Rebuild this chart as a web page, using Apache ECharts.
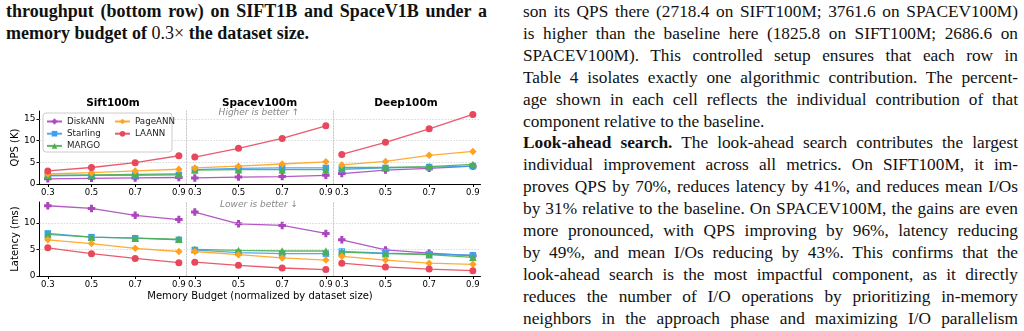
<!DOCTYPE html>
<html>
<head>
<meta charset="utf-8">
<script src="https://cdn.jsdelivr.net/npm/echarts@6/dist/echarts.min.js"></script>
<style>
body{margin:0;width:1024px;height:331px;overflow:hidden;background:#fff;position:relative;color:#111}
#chart{position:absolute;left:0;top:0;width:500px;height:331px}
.cap{position:absolute;left:6px;top:1px;width:481px;font:bold 18px/21.5px "Liberation Serif",serif}
.cap .m{font-weight:normal}
.col{position:absolute;left:523px;top:1px;width:495px;font:17.3px/21.9px "Liberation Serif",serif}
.j{text-align:justify;text-align-last:justify}
.l{text-align:left}
</style>
</head>
<body>
<div class="cap">
<div class="j">throughput (bottom row) on SIFT1B and SpaceV1B under a</div>
<div class="l">memory budget of <span class="m">0.3×</span> the dataset size.</div>
</div>
<div class="col">
<div class="j">son its QPS there (2718.4 on SIFT100M; 3761.6 on SPACEV100M)</div>
<div class="j">is higher than the baseline here (1825.8 on SIFT100M; 2686.6 on</div>
<div class="j">SPACEV100M). This controlled setup ensures that each row in</div>
<div class="j">Table 4 isolates exactly one algorithmic contribution. The percent-</div>
<div class="j">age shown in each cell reflects the individual contribution of that</div>
<div class="l">component relative to the baseline.</div>
<div class="j"><b>Look-ahead search.</b> The look-ahead search contributes the largest</div>
<div class="j">individual improvement across all metrics. On SIFT100M, it im-</div>
<div class="j">proves QPS by 70%, reduces latency by 41%, and reduces mean I/Os</div>
<div class="j">by 31% relative to the baseline. On SPACEV100M, the gains are even</div>
<div class="j">more pronounced, with QPS improving by 96%, latency reducing</div>
<div class="j">by 49%, and mean I/Os reducing by 43%. This confirms that the</div>
<div class="j">look-ahead search is the most impactful component, as it directly</div>
<div class="j">reduces the number of I/O operations by prioritizing in-memory</div>
<div class="j">neighbors in the approach phase and maximizing I/O parallelism</div>
</div>
<div id="chart"></div>
<script>
// memory budget (x) and panels
var budgets = [0.3, 0.5, 0.7, 0.9];
var datasets = ['Sift100m', 'Spacev100m', 'Deep100m'];
var methods = ['DiskANN', 'Starling', 'MARGO', 'PageANN', 'LAANN'];
var qpsTicks = [0, 5, 10, 15];
var latTicks = [0, 5, 10];

// QPS (K), one row per dataset: sift, spacev, deep
var qpsDiskANN  = [[1.2, 1.3, 1.4, 1.5], [1.4, 1.6, 1.7, 2.0], [2.4, 3.2, 3.6, 4.1]];
var qpsStarling = [[1.9, 2.0, 2.0, 2.1], [3.3, 3.6, 3.7, 3.7], [3.4, 3.7, 3.9, 4.1]];
var qpsMARGO    = [[2.0, 2.1, 2.2, 2.3], [3.2, 3.3, 3.3, 3.3], [3.8, 3.8, 4.0, 4.5]];
var qpsPageANN  = [[2.3, 2.6, 3.0, 3.4], [3.7, 4.1, 4.6, 5.1], [4.4, 5.2, 6.6, 7.5]];
var qpsLAANN    = [[3.0, 3.8, 4.9, 6.5], [6.2, 8.2, 10.5, 13.4], [6.8, 9.6, 12.7, 16.0]];

// latency (ms)
var latDiskANN  = [[13.2, 12.7, 11.4, 10.6], [12.0, 9.8, 9.5, 8.0], [6.8, 4.9, 4.3, 3.8]];
var latStarling = [[8.0, 7.3, 7.1, 6.8], [4.9, 4.4, 4.2, 4.2], [4.6, 4.3, 4.1, 3.9]];
var latMARGO    = [[7.8, 7.3, 7.1, 6.9], [5.0, 4.8, 4.7, 4.7], [4.5, 4.2, 4.0, 3.5]];
var latPageANN  = [[6.8, 6.1, 5.2, 4.6], [4.6, 4.0, 3.4, 3.0], [3.7, 3.0, 2.4, 2.2]];
var latLAANN    = [[5.3, 4.2, 3.3, 2.5], [2.6, 2.0, 1.5, 1.2], [2.4, 1.7, 1.3, 1.0]];

var qpsData = [qpsDiskANN, qpsStarling, qpsMARGO, qpsPageANN, qpsLAANN];
var latData = [latDiskANN, latStarling, latMARGO, latPageANN, latLAANN];

var colors = ['#AB47BC', '#3DA0F0', '#4CAF50', '#FFA21F', '#E8475C'];
var symbols = ['path://M3,0H7V3H10V7H7V10H3V7H0V3H3Z', 'rect', 'triangle', 'diamond', 'circle'];
var symSizes = [7.5, 6.5, 7.5, 7.5, 7];
var FONT = 'DejaVu Sans';

var colLeft = [39.5, 186.5, 333.5], colW = 147;
var rowTop = [111, 202], rowH = [73, 74], rowMax = [16.8, 13.9];
var rowTicks = [qpsTicks, latTicks];
var rowData = [qpsData, latData];

var grids = [], xAxes = [], yAxes = [], series = [];
for (var r = 0; r < 2; r++) {
	for (var c = 0; c < 3; c++) {
		var gi = grids.length;
		grids.push({left: colLeft[c], top: rowTop[r], width: colW, height: rowH[r], containLabel: false});
		xAxes.push({
			type: 'value', gridIndex: gi, min: 0.262, max: 0.935,
			axisLine: {show: true, lineStyle: {color: '#000', width: 1}},
			axisTick: {show: true, length: 3, customValues: budgets, lineStyle: {color: '#000'}},
			axisLabel: {show: true, customValues: budgets, margin: 4, fontSize: 8.5, fontFamily: FONT, color: '#000',
				formatter: function(v){ return v.toFixed(1); }},
			splitLine: {show: false}
		});
		if (c == 0) {
			yAxes.push({
				type: 'value', gridIndex: gi, min: 0, max: rowMax[r],
				axisLine: {show: true, lineStyle: {color: '#000', width: 1}},
				axisTick: {show: true, length: 3, customValues: rowTicks[r], lineStyle: {color: '#000'}},
				axisLabel: {show: true, customValues: rowTicks[r], margin: 4, fontSize: 9, fontFamily: FONT, color: '#000'},
				splitLine: {show: false}
			});
		} else {
			yAxes.push({
				type: 'value', gridIndex: gi, min: 0, max: rowMax[r],
				axisLine: {show: true, lineStyle: {color: '#c8c8c8', width: 1, type: [1.5, 1.5]}},
				axisTick: {show: false}, axisLabel: {show: false}, splitLine: {show: false}
			});
		}
		for (var m = 0; m < methods.length; m++) {
			var vals = rowData[r][m][c];
			var s = {
				name: methods[m], type: 'line', xAxisIndex: gi, yAxisIndex: gi,
				data: budgets.map(function(b, i){ return [b, vals[i]]; }),
				symbol: symbols[m], symbolSize: symSizes[m], showAllSymbol: true,
				lineStyle: {color: colors[m], width: 1.3, opacity: 0.9},
				itemStyle: {color: colors[m]},
				z: 3 + m, animation: false
			};
			if (m == 0) {
				s.markLine = {
					silent: true, symbol: ['none', 'none'], label: {show: false},
					lineStyle: {color: '#cfcfcf', width: 0.8, type: [1.5, 1.5]},
					data: rowTicks[r].filter(function(v){ return v > 0; }).map(function(v){ return {yAxis: v}; })
				};
			}
			series.push(s);
		}
	}
}

var legendText = {fontSize: 8.7, fontFamily: FONT, color: '#222'};
var titleFont = 'bold 10.5px "DejaVu Sans"';
var noteFont = 'italic 9px "DejaVu Sans"';
var graphic = [
	{type: 'rect', shape: {x: 43, y: 113, width: 129, height: 39, r: 3}, style: {fill: 'rgba(255,255,255,0.85)', stroke: '#cccccc', lineWidth: 1}, z: 10},
	{type: 'text', x: 113, y: 103, style: {text: datasets[0], font: titleFont, fill: '#000', textAlign: 'center', textVerticalAlign: 'middle'}},
	{type: 'text', x: 259.5, y: 103, style: {text: datasets[1], font: titleFont, fill: '#000', textAlign: 'center', textVerticalAlign: 'middle'}},
	{type: 'text', x: 406, y: 103, style: {text: datasets[2], font: titleFont, fill: '#000', textAlign: 'center', textVerticalAlign: 'middle'}},
	{type: 'text', x: 259, y: 113, z: 10, style: {text: 'Higher is better ↑', font: noteFont, fill: '#888', textAlign: 'center', textVerticalAlign: 'middle'}},
	{type: 'text', x: 259, y: 205, z: 10, style: {text: 'Lower is better ↓', font: noteFont, fill: '#888', textAlign: 'center', textVerticalAlign: 'middle'}},
	{type: 'text', x: 15, y: 147.5, rotation: Math.PI / 2, style: {text: 'QPS (K)', font: '10px "DejaVu Sans"', fill: '#000', textAlign: 'center', textVerticalAlign: 'middle'}},
	{type: 'text', x: 15, y: 239, rotation: Math.PI / 2, style: {text: 'Latency (ms)', font: '10px "DejaVu Sans"', fill: '#000', textAlign: 'center', textVerticalAlign: 'middle'}},
	{type: 'text', x: 260, y: 296, style: {text: 'Memory Budget (normalized by dataset size)', font: '10px "DejaVu Sans"', fill: '#000', textAlign: 'center', textVerticalAlign: 'middle'}}
];

var chart = echarts.init(document.getElementById('chart'), null, {renderer: 'canvas'});
chart.setOption({
	animation: false,
	grid: grids, xAxis: xAxes, yAxis: yAxes, series: series,
	legend: [
		{data: ['DiskANN', 'Starling', 'MARGO'], left: 46, top: 117, orient: 'vertical', padding: 0,
			itemWidth: 15, itemHeight: 7, itemGap: 3.2, textStyle: legendText, z: 11},
		{data: ['PageANN', 'LAANN'], left: 114, top: 117, orient: 'vertical', padding: 0,
			itemWidth: 15, itemHeight: 7, itemGap: 3.2, textStyle: legendText, z: 11}
	],
	graphic: graphic
});
</script>
</body>
</html>
